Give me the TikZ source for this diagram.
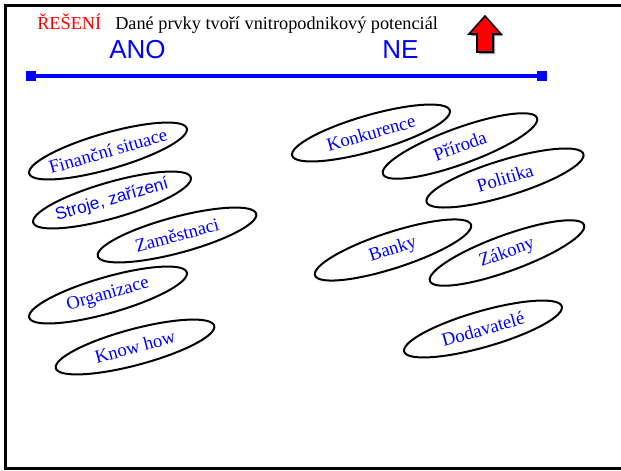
\documentclass[tikz,border=0pt]{standalone}
\usepackage{fontspec}
\setmainfont{Liberation Serif}
\setsansfont{Liberation Sans}
\usetikzlibrary{shapes.geometric}

\tikzset{
  oval/.style={draw=black, line width=1.5pt, ellipse, inner sep=0pt,
    minimum width=123pt, minimum height=27pt, text=blue,
    font=\fontsize{14pt}{16pt}\selectfont},
  barend/.style={fill=blue, inner sep=0pt, minimum size=7.5pt}
}

\begin{document}
\begin{tikzpicture}[x=0.75pt, y=-0.75pt]
        \useasboundingbox (0,0) rectangle (621,471);

        % frame of the slide
        \draw [line width=2.25pt] (625,5) -- (5,5) -- (5,468.5) -- (625,468.5);

        % heading
        \node [anchor=base west, inner sep=0pt, text=red, font=\fontsize{13.7pt}{16pt}\selectfont] (reseni) at (37,29) {ŘEŠENÍ};
        \node [anchor=base west, inner sep=0pt, font=\fontsize{13.7pt}{16pt}\selectfont] (nadpis) at (115,29) {Dané prvky tvoří vnitropodnikový potenciál};
        \node [anchor=base west, inner sep=0pt, text=blue, font=\sffamily\fontsize{19.5pt}{22pt}\selectfont] (ano) at (109,58) {ANO};
        \node [anchor=base west, inner sep=0pt, text=blue, font=\sffamily\fontsize{19.5pt}{22pt}\selectfont] (ne) at (382,58) {NE};

        % arrow up
        \fill [black!40] (487,18) -- (503,36) -- (495,36) -- (495,54) -- (479,54) -- (479,36) -- (471,36) -- cycle;
        \draw [fill=red, line width=1.2pt, line join=miter] (485,16) -- (501,34) -- (493,34) -- (493,52) -- (477,52) -- (477,34) -- (469,34) -- cycle;

        % blue scale
        \node [barend] (lend) at (31,76) {};
        \node [barend] (rend) at (542,76) {};
        \draw [blue, line width=3pt] (lend) -- (rend);

        % ANO
        \node [oval, rotate=16] (fin) at (108,151) {\makebox[0pt]{Finanční situace}};
        \node [oval, rotate=16, font=\sffamily\fontsize{13pt}{15pt}\selectfont] (stroje) at (112,200) {\makebox[0pt]{Stroje, zařízení}};
        \node [oval, rotate=15] (zam) at (177,235) {\makebox[0pt]{Zaměstnaci}};
        \node [oval, rotate=16] (org) at (108,295) {\makebox[0pt]{Organizace}};
        \node [oval, rotate=15] (know) at (135,347) {\makebox[0pt]{Know how}};

        % NE
        \node [oval, rotate=16] (konk) at (371,133) {\makebox[0pt]{Konkurence}};
        \node [oval, rotate=20] (prir) at (460,146) {\makebox[0pt]{Příroda}};
        \node [oval, rotate=17] (pol) at (505,178) {\makebox[0pt]{Politika}};
        \node [oval, rotate=18] (banky) at (393,250) {\makebox[0pt]{Banky}};
        \node [oval, rotate=20] (zak) at (507,253) {\makebox[0pt]{Zákony}};
        \node [oval, rotate=16] (dod) at (483,329) {\makebox[0pt]{Dodavatelé}};
\end{tikzpicture}
\end{document}
